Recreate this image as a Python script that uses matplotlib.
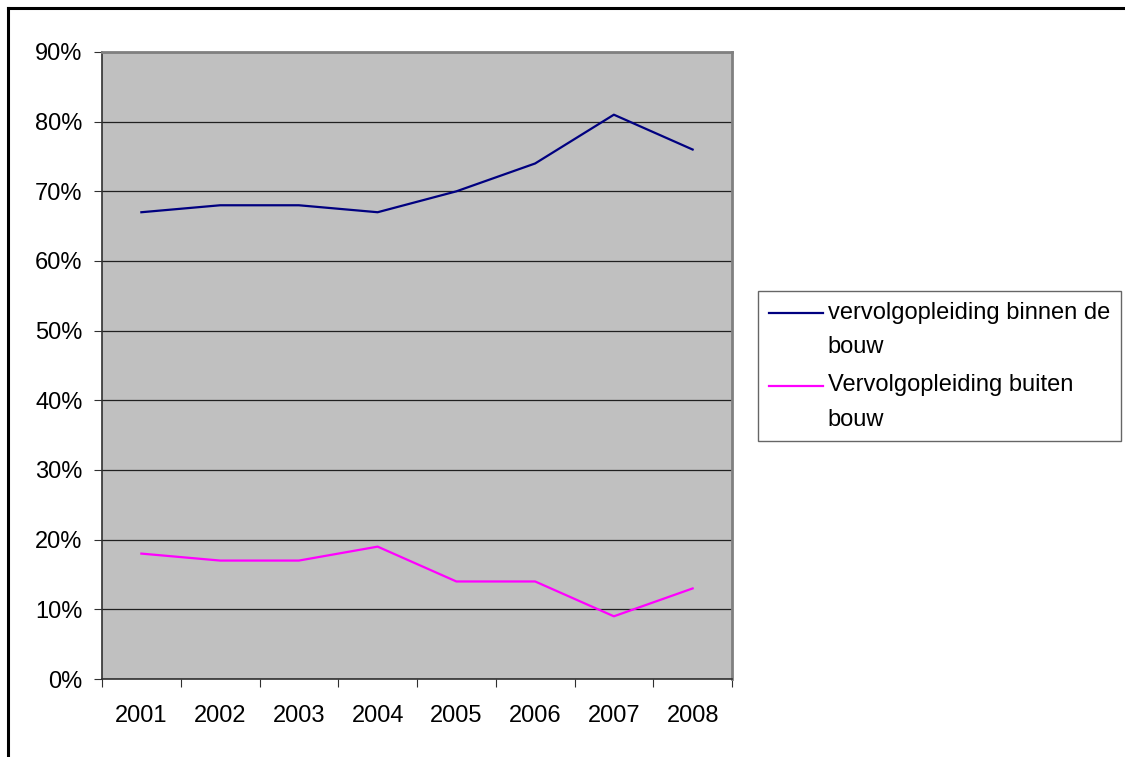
import numpy as np
import matplotlib.pyplot as plt
from matplotlib.lines import Line2D
from matplotlib.legend_handler import HandlerLine2D

plt.rcParams['font.family'] = ['Liberation Sans', 'DejaVu Sans']
plt.rcParams['font.size'] = 17

# data
jaren = ['2001', '2002', '2003', '2004', '2005', '2006', '2007', '2008']
binnen_bouw = [67, 68, 68, 67, 70, 74, 81, 76]
buiten_bouw = [18, 17, 17, 19, 14, 14, 9, 13]
labels = ['vervolgopleiding binnen de\nbouw', 'Vervolgopleiding buiten\nbouw']


class TopLine(HandlerLine2D):
    # legend line next to the first text line, like Excel does
    def create_artists(self, legend, orig_handle, xdescent, ydescent,
                       width, height, fontsize, trans):
        artists = super().create_artists(legend, orig_handle, xdescent, ydescent,
                                         width, height, fontsize, trans)
        for a in artists:
            a.set_ydata(np.asarray(a.get_ydata()) + 0.72 * fontsize)
        return artists


fig = plt.figure(figsize=(11.25, 7.57), dpi=100)
ax = fig.add_axes([102/1125, 1 - 679/757, 630/1125, 627/757])
ax.set_facecolor('#C0C0C0')

x = np.arange(1, len(jaren) + 1)
ax.plot(x, binnen_bouw, color='#000080', linewidth=1.6, label=labels[0], zorder=3)
ax.plot(x, buiten_bouw, color='#FF00FF', linewidth=1.6, label=labels[1], zorder=3)

ax.set_xlim(0.5, len(jaren) + 0.5)
ax.set_ylim(0, 90)
ax.set_yticks(np.arange(0, 91, 10))
ax.set_yticklabels([f'{v}%' for v in range(0, 91, 10)])
ax.yaxis.grid(True, color='#202020', linewidth=0.9)
ax.set_axisbelow(True)

# tick marks between categories, labels at centres
ax.set_xticks(np.arange(0.5, len(jaren) + 1, 1))
ax.set_xticklabels([])
ax.set_xticks(x, minor=True)
ax.set_xticklabels(jaren, minor=True)
ax.tick_params(axis='x', which='minor', length=0, pad=19)
ax.tick_params(axis='x', which='major', length=6, color='#303030')
ax.tick_params(axis='y', length=6, pad=8, color='#303030')

for side in ['left', 'bottom']:
    ax.spines[side].set_color('#303030')
    ax.spines[side].set_linewidth(1.2)
for side in ['top', 'right']:
    ax.spines[side].set_color('#808080')
    ax.spines[side].set_linewidth(2)

leg = fig.legend(loc='upper left', bbox_to_anchor=(758/1125, 1 - 291/757),
                 frameon=True, fancybox=False, edgecolor='#404040',
                 handlelength=2.3, handletextpad=0.2, labelspacing=0.7,
                 borderpad=0.45, borderaxespad=0,
                 handler_map={Line2D: TopLine()})
leg.get_frame().set_linewidth(1)
for t in leg.get_texts():
    t.set_linespacing(1.72)

# outer chart border
fig.add_artist(Line2D([8/1125, 8/1125], [0, 1 - 8/757], color='black', linewidth=2.2))
fig.add_artist(Line2D([8/1125, 1], [1 - 8/757, 1 - 8/757], color='black', linewidth=2.2))

fig.savefig('out.png', dpi=100)
